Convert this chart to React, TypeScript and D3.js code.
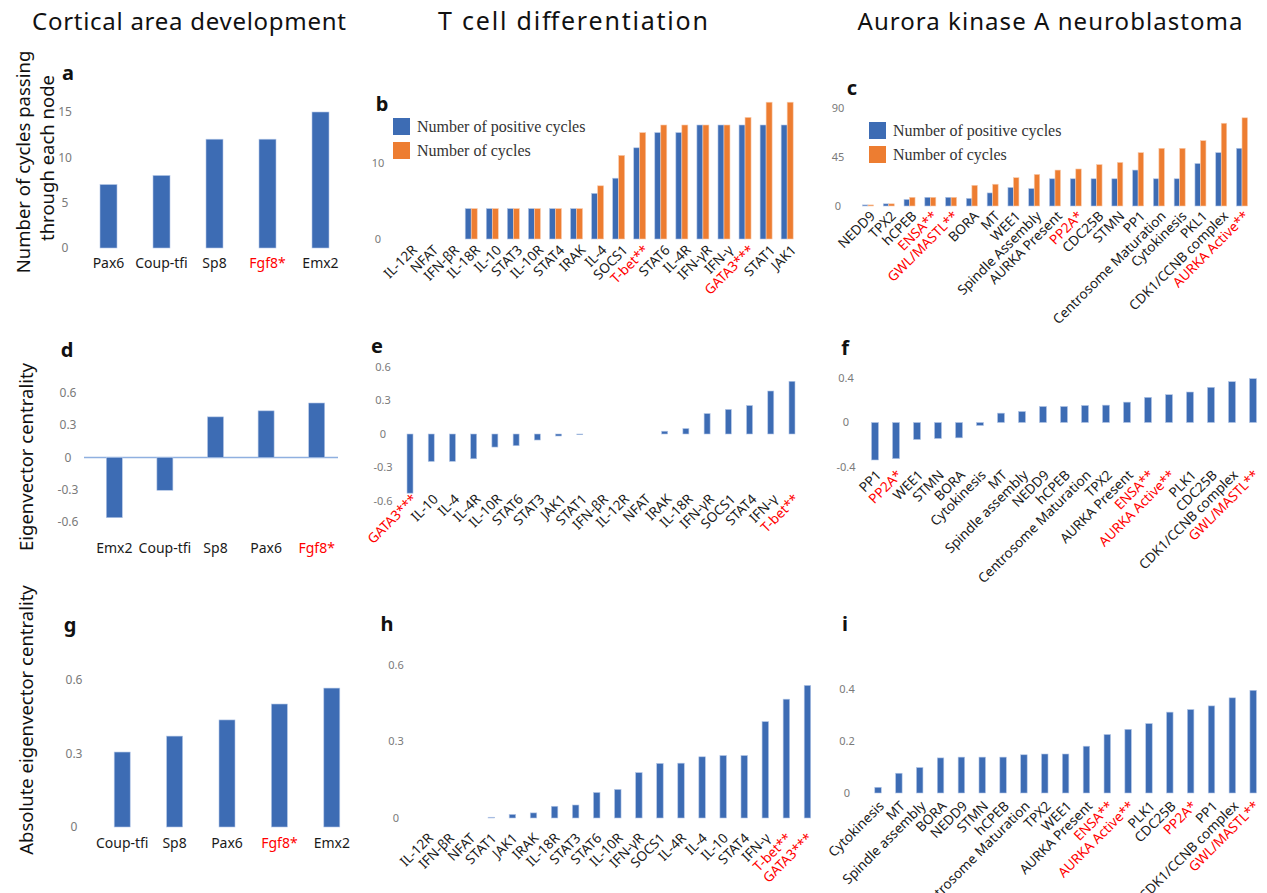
import React from "react";
import * as d3 from "d3";

const BLUE = "#3d6cb4";
const ORANGE = "#ed7d31";
const RED = "#ff0000";
const SANS = "'Noto Sans', 'Open Sans', sans-serif";
const SERIF = "'Liberation Serif', 'DejaVu Serif', serif";

// column titles
const columnTitles = ["Cortical area development", "T cell differentiation", "Aurora kinase A neuroblastoma"];

// a: cortical, number of cycles
const aNodes = ["Pax6", "Coup-tfi", "Sp8", "Fgf8*", "Emx2"];
const aCycles = [7, 8, 12, 12, 15];
// d: cortical, eigenvector centrality
const dNodes = ["Emx2", "Coup-tfi", "Sp8", "Pax6", "Fgf8*"];
const dEigen = [-0.56, -0.305, 0.378, 0.434, 0.507];
// g: cortical, absolute eigenvector centrality
const gNodes = ["Coup-tfi", "Sp8", "Pax6", "Fgf8*", "Emx2"];
const gAbs = [0.306, 0.371, 0.437, 0.502, 0.567];

// b: T cell, cycles
const bNodes = ["IL-12R", "NFAT", "IFN-βR", "IL-18R", "IL-10", "STAT3", "IL-10R", "STAT4", "IRAK", "IL-4",
  "SOCS1", "T-bet**", "STAT6", "IL-4R", "IFN-γR", "IFN-γ", "GATA3***", "STAT1", "JAK1"];
const bPositive = [0, 0, 0, 4, 4, 4, 4, 4, 4, 6, 8, 12, 14, 14, 15, 15, 15, 15, 15];
const bCycles = [0, 0, 0, 4, 4, 4, 4, 4, 4, 7, 11, 14, 15, 15, 15, 15, 16, 18, 18];
// e: T cell, eigenvector centrality
const eNodes = ["GATA3***", "IL-10", "IL-4", "IL-4R", "IL-10R", "STAT6", "STAT3", "JAK1", "STAT1", "IFN-βR",
  "IL-12R", "NFAT", "IRAK", "IL-18R", "IFN-γR", "SOCS1", "STAT4", "IFN-γ", "T-bet**"];
const eEigen = [-0.53, -0.246, -0.245, -0.222, -0.117, -0.105, -0.054, -0.018, -0.006, 0,
  0, 0, 0.025, 0.049, 0.183, 0.22, 0.255, 0.385, 0.472];
// h: T cell, absolute eigenvector centrality
const hNodes = ["IL-12R", "IFN-βR", "NFAT", "STAT1", "JAK1", "IRAK", "IL-18R", "STAT3", "STAT6", "IL-10R",
  "IFN-γR", "SOCS1", "IL-4R", "IL-4", "IL-10", "STAT4", "IFN-γ", "T-bet**", "GATA3***"];
const hAbs = [0, 0, 0, 0.003, 0.014, 0.02, 0.046, 0.051, 0.1, 0.112,
  0.178, 0.214, 0.215, 0.24, 0.245, 0.245, 0.378, 0.466, 0.52];

// c: Aurora kinase A, cycles
const cNodes = ["NEDD9", "TPX2", "hCPEB", "ENSA**", "GWL/MASTL**", "BORA", "MT", "WEE1", "Spindle Assembly",
  "AURKA Present", "PP2A*", "CDC25B", "STMN", "PP1", "Centrosome Maturation", "Cytokinesis", "PKL1",
  "CDK1/CCNB complex", "AURKA Active**"];
const cPositive = [1, 2, 6, 8, 8, 7, 12, 17, 16, 25, 25, 25, 25, 33, 25, 25, 39, 49, 53];
const cCycles = [1, 2, 8, 8, 8, 19, 20, 26, 29, 33, 34, 38, 40, 49, 53, 53, 60, 76, 81];
// f: Aurora kinase A, eigenvector centrality
const fNodes = ["PP1", "PP2A*", "WEE1", "STMN", "BORA", "Cytokinesis", "MT", "Spindle assembly", "NEDD9",
  "hCPEB", "Centrosome Maturation", "TPX2", "AURKA Present", "ENSA**", "AURKA Active**", "PLK1", "CDC25B",
  "CDK1/CCNB complex", "GWL/MASTL**"];
const fEigen = [-0.337, -0.325, -0.153, -0.144, -0.138, -0.027, 0.084, 0.099, 0.144,
  0.144, 0.153, 0.156, 0.183, 0.226, 0.25, 0.274, 0.316, 0.367, 0.394];
// i: Aurora kinase A, absolute eigenvector centrality
const iNodes = ["Cytokinesis", "MT", "Spindle assembly", "BORA", "NEDD9", "STMN", "hCPEB",
  "Centrosome Maturation", "TPX2", "WEE1", "AURKA Present", "ENSA**", "AURKA Active**", "PLK1", "CDC25B",
  "PP2A*", "PP1", "CDK1/CCNB complex", "GWL/MASTL**"];
const iAbs = [0.022, 0.076, 0.098, 0.135, 0.138, 0.138, 0.138, 0.147, 0.15, 0.15, 0.18, 0.225, 0.245,
  0.267, 0.311, 0.321, 0.335, 0.366, 0.395];

const legendLabels = ["Number of positive cycles", "Number of cycles"];

type PanelProps = {
  letter: string;
  letterPos: [number, number];
  cats: string[];
  series: number[][];
  colors: string[];
  xRange: [number, number];
  groupW: number;
  yDomain: [number, number];
  yRange: [number, number];
  ticks: number[];
  tickX: number;
  tickSize?: number;
  rotated: boolean;
  labelY: number;
  labelDx?: number;
  labelSize?: number;
  zeroLine?: boolean;
  legend?: [number, number];
};

const Panel = (p: PanelProps) => {
  const n = p.cats.length;
  const step = (p.xRange[1] - p.xRange[0]) / n;
  const pad = 1 - p.groupW / step;
  const x = d3.scaleBand<string>().domain(p.cats).range(p.xRange).paddingInner(pad).paddingOuter(pad / 2);
  const inner = d3
    .scaleBand<number>()
    .domain(d3.range(p.series.length))
    .range([0, x.bandwidth()]);
  const y = d3.scaleLinear().domain(p.yDomain).range(p.yRange);
  const y0 = y(0);
  const fmt = (v: number) => (v === 0 ? "0" : String(v));

  return (
    <g>
      <text x={p.letterPos[0]} y={p.letterPos[1]} fontFamily={SANS} fontWeight="bold" fontSize={20} textAnchor="middle" fill="#111">
        {p.letter}
      </text>
      {p.ticks.map((t) => (
        <text key={t} x={p.tickX} y={y(t)} dy="0.35em" textAnchor="middle" fontFamily={SANS} fontSize={p.tickSize ?? 11} fill="#7a7a7a">
          {fmt(t)}
        </text>
      ))}
      {p.zeroLine && (
        <line x1={p.xRange[0] - 5} x2={p.xRange[1] - 4} y1={y0} y2={y0} stroke="#8fb0e0" strokeWidth={1.3} />
      )}
      {p.series.map((vals, si) =>
        vals.map((v, ci) => {
          const bx = (x(p.cats[ci]) ?? 0) + (inner(si) ?? 0);
          const top = Math.min(y(v), y0);
          const h = Math.abs(y(v) - y0);
          return (
            <rect key={`${si}-${ci}`} x={bx} y={top} width={inner.bandwidth()} height={h} fill={p.colors[si]}
              stroke={si === 0 ? "#b4c7e7" : "#f8cbad"} strokeWidth={0.6} />
          );
        })
      )}
      {p.cats.map((c) => {
        const cx = (x(c) ?? 0) + x.bandwidth() / 2;
        const color = c.includes("*") ? RED : "#1a1a1a";
        if (!p.rotated) {
          return (
            <text key={c} x={cx} y={p.labelY} textAnchor="middle" fontFamily={SANS} fontSize={p.labelSize ?? 14} fill={color}>
              {c}
            </text>
          );
        }
        return (
          <text
            key={c}
            transform={`translate(${cx + (p.labelDx ?? 4)},${p.labelY}) rotate(-45)`}
            textAnchor="end"
            dominantBaseline="central"
            fontFamily={SANS}
            fontSize={p.labelSize ?? 13.6}
            fill={color}
          >
            {c}
          </text>
        );
      })}
      {p.legend &&
        legendLabels.map((l, i) => (
          <g key={l} transform={`translate(${p.legend![0]},${p.legend![1] + i * 24})`}>
            <rect x={0} y={0} width={17} height={17} fill={p.colors[i]} />
            <text x={24} y={14} fontFamily={SERIF} fontSize={16} fill="#333">
              {l}
            </text>
          </g>
        ))}
    </g>
  );
};

const titleX = [189, 573, 1050];
const titleW = [314, 270, 385];
const titleSize = [24, 25, 24];

const App = () => {
  return (
    <svg width={1267} height={893} style={{ display: "block", position: "absolute", left: 0, top: 0 }}>
      <rect width={1267} height={893} fill="#fff" />
      {columnTitles.map((t, i) => (
        <text key={t} x={titleX[i]} y={30} textAnchor="middle" fontFamily={SANS} fontSize={titleSize[i]}
          textLength={titleW[i]} lengthAdjust="spacing" fill="#111">
          {t}
        </text>
      ))}
      <text transform="translate(22,162) rotate(-90)" textAnchor="middle" dominantBaseline="central" fontFamily={SANS} fontSize={18.5} fill="#111">
        Number of cycles passing
      </text>
      <text transform="translate(46,158) rotate(-90)" textAnchor="middle" dominantBaseline="central" fontFamily={SANS} fontSize={18.5} fill="#111">
        through each node
      </text>
      <text transform="translate(25,457) rotate(-90)" textAnchor="middle" dominantBaseline="central" fontFamily={SANS} fontSize={18.5} fill="#111">
        Eigenvector centrality
      </text>
      <text transform="translate(25,720) rotate(-90)" textAnchor="middle" dominantBaseline="central" fontFamily={SANS} fontSize={18.5} fill="#111">
        Absolute eigenvector centrality
      </text>

      <Panel letter="a" letterPos={[68, 80]} cats={aNodes} series={[aCycles]} colors={[BLUE]} xRange={[82, 347]} groupW={17}
        yDomain={[0, 15]} yRange={[248, 112]} ticks={[0, 5, 10, 15]} tickX={65} tickSize={12} rotated={false} labelY={268} />
      <Panel letter="d" letterPos={[67, 357]} cats={dNodes} series={[dEigen]} colors={[BLUE]} xRange={[89, 342]} groupW={16}
        yDomain={[-0.6, 0.6]} yRange={[522, 393]} ticks={[-0.6, -0.3, 0, 0.3, 0.6]} tickX={68} tickSize={12} rotated={false} labelY={553} zeroLine />
      <Panel letter="g" letterPos={[70, 632]} cats={gNodes} series={[gAbs]} colors={[BLUE]} xRange={[96, 358]} groupW={16}
        yDomain={[0, 0.6]} yRange={[827, 680]} ticks={[0, 0.3, 0.6]} tickX={74} tickSize={12} rotated={false} labelY={848} />

      <Panel letter="b" letterPos={[382, 111]} cats={bNodes} series={[bPositive, bCycles]} colors={[BLUE, ORANGE]} xRange={[397.5, 797.7]} groupW={12}
        yDomain={[0, 10]} yRange={[239, 163]} ticks={[0, 10]} tickX={378} rotated labelY={247} labelDx={6} legend={[393, 118]} />
      <Panel letter="e" letterPos={[377, 353]} cats={eNodes} series={[eEigen]} colors={[BLUE]} xRange={[399.4, 802.6]} groupW={6}
        yDomain={[-0.6, 0.6]} yRange={[501, 367]} ticks={[-0.6, -0.3, 0, 0.3, 0.6]} tickX={383} rotated labelY={496} labelDx={4} />
      <Panel letter="h" letterPos={[387, 631]} cats={hNodes} series={[hAbs]} colors={[BLUE]} xRange={[417.6, 818]} groupW={6.5}
        yDomain={[0, 0.6]} yRange={[818, 665]} ticks={[0, 0.3, 0.6]} tickX={396} rotated labelY={835} labelDx={2} />

      <Panel letter="c" letterPos={[852, 95]} cats={cNodes} series={[cPositive, cCycles]} colors={[BLUE, ORANGE]} xRange={[857.6, 1252.4]} groupW={11}
        yDomain={[0, 90]} yRange={[206, 108]} ticks={[0, 45, 90]} tickX={838} rotated labelY={213} labelDx={4} legend={[869, 122]} />
      <Panel letter="f" letterPos={[845, 355]} cats={fNodes} series={[fEigen]} colors={[BLUE]} xRange={[864.5, 1263.5]} groupW={7}
        yDomain={[-0.4, 0.4]} yRange={[467, 378]} ticks={[-0.4, 0, 0.4]} tickX={846} rotated labelY={472} labelDx={3} />
      <Panel letter="i" letterPos={[845, 631]} cats={iNodes} series={[iAbs]} colors={[BLUE]} xRange={[867.6, 1263.6]} groupW={6.5}
        yDomain={[0, 0.4]} yRange={[793, 689]} ticks={[0, 0.2, 0.4]} tickX={847} rotated labelY={803} labelDx={3} />
    </svg>
  );
};

export default App;
